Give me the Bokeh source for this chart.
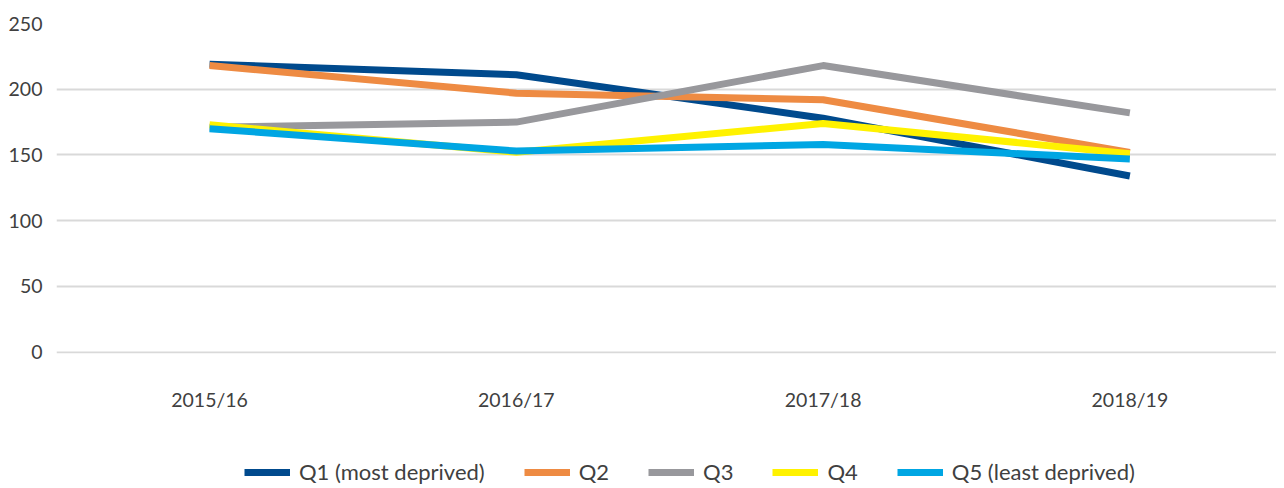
from bokeh.plotting import figure
from bokeh.models import Legend, LegendItem, FixedTicker, Range1d
from bokeh.layouts import column
from bokeh.embed import file_html
from bokeh.resources import INLINE

years = ["2015/16", "2016/17", "2017/18", "2018/19"]
q1 = [219, 211, 178, 134]
q2 = [218, 197, 192, 152]
q3 = [171, 175, 218, 182]
q4 = [173, 152, 174, 151]
q5 = [170, 153, 158, 147]

names = ["Q1 (most deprived)", "Q2", "Q3", "Q4", "Q5 (least deprived)"]
colors = ["#004A8D", "#EE8B43", "#98989C", "#FFF200", "#00A6E3"]
series = [q1, q2, q3, q4, q5]

FONT = "Lato"
TXT = "#404040"
W = 1276

p = figure(width=W, height=418, output_backend="svg", toolbar_location=None,
           x_range=Range1d(-0.499, 3.478), y_range=Range1d(-1, 250),
           min_border_left=56, min_border_right=0, min_border_top=23, min_border_bottom=65)
p.outline_line_color = None

xs = list(range(len(years)))
for col, s in zip(colors, series):
    p.line(xs, s, line_color=col, line_width=7, line_cap="butt", line_join="round")

p.xaxis.ticker = FixedTicker(ticks=xs)
p.xaxis.major_label_overrides = {i: y for i, y in enumerate(years)}
p.yaxis.ticker = FixedTicker(ticks=[0, 50, 100, 150, 200, 250])
for ax in (p.xaxis, p.yaxis):
    ax.axis_line_color = None
    ax.major_tick_line_color = None
    ax.minor_tick_line_color = None
    ax.major_label_text_font = FONT
    ax.major_label_text_font_size = "19.5px"
    ax.major_label_text_color = TXT
p.xaxis.major_label_standoff = 28
p.yaxis.major_label_standoff = 8

p.xgrid.grid_line_color = None
p.ygrid.grid_line_color = "#d9d9d9"
p.ygrid.grid_line_width = 2

# legend strip (same series, drawn outside its visible range; only the legend shows)
lg = figure(width=W, height=68, output_backend="svg", toolbar_location=None,
            x_axis_location=None, y_axis_location=None,
            x_range=Range1d(10, 11), y_range=Range1d(0, 1),
            min_border_left=0, min_border_right=0, min_border_top=0, min_border_bottom=0)
lg.outline_line_color = None
lg.grid.grid_line_color = None
items = []
for name, col, s in zip(names, colors, series):
    r = lg.line(xs, s, line_color=col, line_width=7, line_cap="butt")
    items.append(LegendItem(label=name, renderers=[r]))
legend = Legend(items=items, orientation="horizontal", location=(188, 1),
                label_text_font=FONT, label_text_font_size="22px", label_text_color=TXT,
                glyph_width=46, glyph_height=26, label_standoff=9, spacing=39,
                border_line_color=None, background_fill_alpha=0, margin=0, padding=0)
lg.add_layout(legend, "center")

layout = column(p, lg, spacing=0)
open("out.html", "w").write(file_html(layout, INLINE))
